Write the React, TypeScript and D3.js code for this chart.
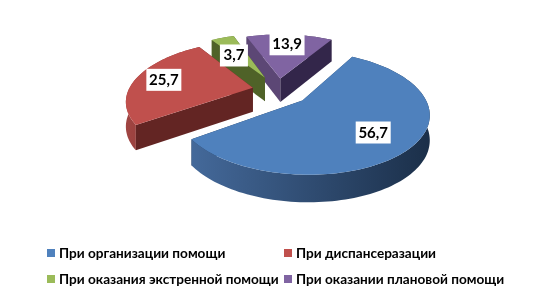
import React from "react";
import * as d3 from "d3";

const categories = ["При организации помощи", "При диспансеразации", "При оказания экстренной помощи", "При оказании плановой помощи"];
const values = [56.7, 25.7, 3.7, 13.9];
const valueLabels = ["56,7", "25,7", "3,7", "13,9"];
const topColors = ["#4F81BD", "#C0504D", "#9BBB59", "#8064A2"];
const wallColors = ["#1F3552", "#632523", "#3F5220", "#33264A"];
const sideWallColors = ["#2F4D71", "#632523", "#4F6228", "#5C4775"];
const rimFrom = ["#44699A", "#A04542", "#748C43", "#604B7A"];
const rimTo = ["#1B2F49", "#7E302E", "#4F6228", "#40314F"];

// layout
const labelRadii = [0.66, 0.77, 0.7, 0.7];
const labelNudgeY = [2, 0, 7, -2];
const explodes = [0.26, 0.21, 0.25, 0.21];
const radii = [0.97, 1.01, 1, 1];
const W = 559, H = 298;
const cx = 278, cy = 90, rx = 123, ry = 57, persp = 0.2, depth = 24, startDeg = 30.5;
const FONT = "Lato, Carlito, 'Noto Sans', sans-serif";

const rad = d3.scaleLinear().domain([0, 180]).range([0, Math.PI]);
const pieGen = d3.pie<number>().sort(null).startAngle(rad(startDeg)).endAngle(rad(startDeg + 360));
const arcs = pieGen(values);

type P = [number, number];

function disk(mid: number, a: number, r: number, explode: number): [number, number] {
  return [explode * Math.sin(mid) + r * Math.sin(a), explode * Math.cos(mid) + r * Math.cos(a)];
}
function project(u: number, v: number, drop = 0): P {
  const s = 1 / (1 + persp * v);
  return [cx + rx * u * s, cy - ry * v * s + drop * (1 + (s - 1) * 0.5)];
}
const line = d3.line<P>().x((d) => d[0]).y((d) => d[1]);

function sampleAngles(a0: number, a1: number): number[] {
  const n = Math.max(2, Math.ceil((a1 - a0) / 0.03));
  return d3.range(n + 1).map((i) => a0 + ((a1 - a0) * i) / n);
}

const slices = arcs.map((d, i) => {
  const mid = (d.startAngle + d.endAngle) / 2;
  const e = explodes[i];
  const R = radii[i];
  const wallPath = (a: number) => {
    const [au, av] = disk(mid, a, 0, e);
    const [bu, bv] = disk(mid, a, R, e);
    return line([project(au, av), project(bu, bv), project(bu, bv, depth), project(au, av, depth)]) + "Z";
  };
  const angles = sampleAngles(d.startAngle, d.endAngle);
  const apex = project(...disk(mid, 0, 0, e));
  const outer = angles.map((a) => project(...disk(mid, a, R, e)));
  const top = line([apex, ...outer]) + "Z";
  const rimLow = angles.map((a) => project(...disk(mid, a, R, e), depth)).reverse();
  const rim = line([...outer, ...rimLow]) + "Z";
  const labelPos = project(...disk(mid, mid, labelRadii[i], e));
  labelPos[1] += labelNudgeY[i];
  const startV = Math.cos(d.startAngle) + Math.cos(mid) * 0.5;
  const endV = Math.cos(d.endAngle) + Math.cos(mid) * 0.5;
  const walls = [
    { path: wallPath(d.startAngle), v: startV, color: sideWallColors[i] },
    { path: wallPath(d.endAngle), v: endV, color: wallColors[i] },
  ].sort((a, b) => b.v - a.v);
  const xs = outer.map((p) => p[0]);
  const rimFirst = Math.cos(mid) > 0;
  return { i, mid, top, rim, walls, labelPos, rimFirst, x0: d3.min(xs)!, x1: d3.max(xs)! };
});

const drawOrder = [3, 2, 1, 0];
const legendX = [47, 284];
const legendY = [253, 279];

export default function App() {
  return (
    <svg width={W} height={H} style={{ position: "absolute", left: 0, top: 0, background: "#fff", filter: "blur(0.4px)" }}>
      <defs>
        {slices.map((s) => (
          <linearGradient key={s.i} id={`rim${s.i}`} gradientUnits="userSpaceOnUse" x1={s.x0} x2={s.x1} y1={0} y2={0}>
            <stop offset="0" stopColor={rimFrom[s.i]} />
            <stop offset="1" stopColor={rimTo[s.i]} />
          </linearGradient>
        ))}
      </defs>
      {drawOrder.map((k) => {
        const s = slices[k];
        const rimEl = <path d={s.rim} fill={`url(#rim${k})`} />;
        return (
          <g key={k}>
            {s.rimFirst && rimEl}
            {s.walls.map((w, j) => (
              <path key={j} d={w.path} fill={w.color} />
            ))}
            {!s.rimFirst && rimEl}
            <path d={s.top} fill={topColors[k]} />
          </g>
        );
      })}
      {slices.map((s) => {
        const w = valueLabels[s.i].length * 7 + 7;
        return (
          <g key={s.i}>
            <rect x={s.labelPos[0] - w / 2} y={s.labelPos[1] - 11} width={w} height={22} fill="#fff" />
            <text x={s.labelPos[0]} y={s.labelPos[1] + 5} textAnchor="middle" fontFamily={FONT} fontWeight={700} fontSize={15} fill="#000">
              {valueLabels[s.i]}
            </text>
          </g>
        );
      })}
      {categories.map((c, i) => {
        const x = legendX[i % 2];
        const y = legendY[Math.floor(i / 2)];
        return (
          <g key={c}>
            <rect x={x} y={y - 4} width={8} height={8} fill={topColors[i]} />
            <text x={x + 12} y={y + 5} fontFamily={FONT} fontWeight={700} fontSize={13.6} fill="#000">
              {c}
            </text>
          </g>
        );
      })}
    </svg>
  );
}
